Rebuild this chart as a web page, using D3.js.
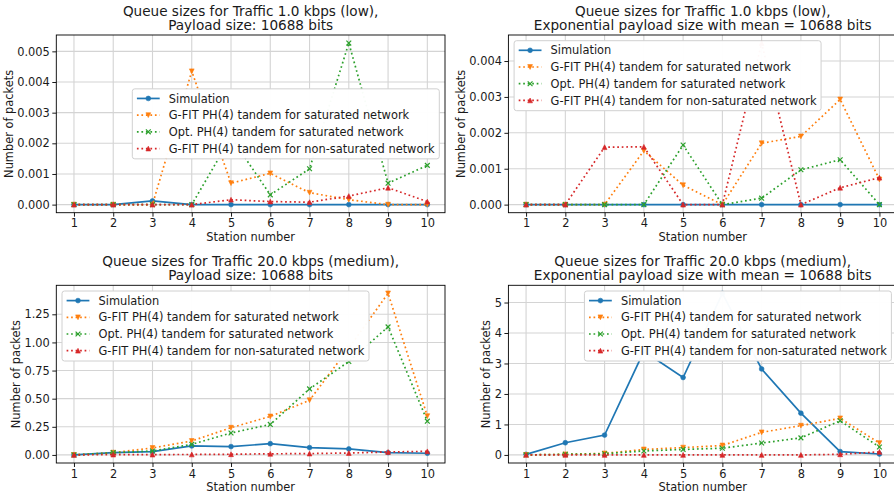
<!DOCTYPE html>
<html>
<head>
<meta charset="utf-8">
<script src="https://cdn.jsdelivr.net/npm/d3@7"></script>
<style>
  html, body { margin: 0; padding: 0; background: #fff; }
  svg { display: block; font-family: "DejaVu Sans", sans-serif; }
</style>
</head>
<body>
<svg id="chart" width="894" height="496"></svg>
<script>
// Station indices shared by every panel
const stations = [1, 2, 3, 4, 5, 6, 7, 8, 9, 10];

// Series names
const seriesNames = [
  "Simulation",
  "G-FIT PH(4) tandem for saturated network",
  "Opt. PH(4) tandem for saturated network",
  "G-FIT PH(4) tandem for non-saturated network"
];

// Panel titles
const titles = [
  ["Queue sizes for Traffic 1.0 kbps (low),", "Payload size: 10688 bits"],
  ["Queue sizes for Traffic 1.0 kbps (low),", "Exponential payload size with mean = 10688 bits"],
  ["Queue sizes for Traffic 20.0 kbps (medium),", "Payload size: 10688 bits"],
  ["Queue sizes for Traffic 20.0 kbps (medium),", "Exponential payload size with mean = 10688 bits"]
];

// Low traffic, fixed payload
const lowFixedSim       = [0, 0, 0.00012, 0, 0, 0, 0, 0, 0, 0];
const lowFixedGfitSat   = [0, 0, 0, 0.00435, 0.0007, 0.00102, 0.00039, 0.00016, 0, 0];
const lowFixedOptSat    = [0, 0, 0, 0, 0.0022, 0.00032, 0.00117, 0.00527, 0.0007, 0.00128];
const lowFixedGfitNon   = [0, 0, 0, 0, 0.00016, 0.0001, 0.00008, 0.00028, 0.00055, 0.0001];

// Low traffic, exponential payload
const lowExpSim         = [0, 0, 0, 0, 0, 0, 0, 0, 0, 0];
const lowExpGfitSat     = [0, 0, 0, 0.0015, 0.00054, 0, 0.00171, 0.0019, 0.00293, 0.0007];
const lowExpOptSat      = [0, 0, 0, 0, 0.00166, 0, 0.00018, 0.00097, 0.00125, 0];
const lowExpGfitNon     = [0, 0, 0.0016, 0.00161, 0, 0, 0.0045, 0, 0.00047, 0.00075];

// Medium traffic, fixed payload
const medFixedSim       = [0.0, 0.02, 0.03, 0.08, 0.074, 0.1, 0.065, 0.053, 0.02, 0.015];
const medFixedGfitSat   = [0, 0.02, 0.062, 0.124, 0.242, 0.342, 0.486, 0.95, 1.436, 0.345];
const medFixedOptSat    = [0, 0.02, 0.035, 0.094, 0.195, 0.271, 0.587, 0.83, 1.138, 0.3];
const medFixedGfitNon   = [0, 0.003, 0.003, 0.004, 0.006, 0.01, 0.012, 0.017, 0.026, 0.032];

// Medium traffic, exponential payload
const medExpSim         = [0.02, 0.4, 0.65, 3.4, 2.54, 5.3, 2.82, 1.37, 0.11, 0.03];
const medExpGfitSat     = [0, 0.02, 0.05, 0.18, 0.24, 0.31, 0.74, 0.96, 1.2, 0.39];
const medExpOptSat      = [0, 0.02, 0.04, 0.13, 0.18, 0.22, 0.39, 0.56, 1.12, 0.26];
const medExpGfitNon     = [0, 0, 0, 0, 0, 0, 0, 0, 0.02, 0.1];

// Y tick values per panel
const yTicksLowFixed = [0, 0.001, 0.002, 0.003, 0.004, 0.005];
const yTicksLowExp   = [0, 0.001, 0.002, 0.003, 0.004];
const yTicksMedFixed = [0, 0.25, 0.5, 0.75, 1.0, 1.25];
const yTicksMedExp   = [0, 1, 2, 3, 4, 5];

const panels = [
  { title: titles[0], series: [lowFixedSim, lowFixedGfitSat, lowFixedOptSat, lowFixedGfitNon],
    yTicks: yTicksLowFixed, fmt: d3.format(".3f"), legend: "center right" },
  { title: titles[1], series: [lowExpSim, lowExpGfitSat, lowExpOptSat, lowExpGfitNon],
    yTicks: yTicksLowExp, fmt: d3.format(".3f"), legend: "upper left" },
  { title: titles[2], series: [medFixedSim, medFixedGfitSat, medFixedOptSat, medFixedGfitNon],
    yTicks: yTicksMedFixed, fmt: d3.format(".2f"), legend: "upper left" },
  { title: titles[3], series: [medExpSim, medExpGfitSat, medExpOptSat, medExpGfitNon],
    yTicks: yTicksMedExp, fmt: d3.format("d"), legend: "upper right" }
];

// Styling
const colors = ["#1f77b4", "#ff7f0e", "#2ca02c", "#d62728"];
const markers = ["circle", "tri-down", "x", "tri-up"];
const dotted = [null, "1.7,2.8", "1.7,2.8", "1.7,2.8"];
const fs = 11.4;      // tick / label / legend font size
const titleFs = 13.6;
const textColor = "#1a1a1a";

// Axes rectangles (2 x 2 grid)
const axW = 388.7, axH = 177.7;
const lefts = [56.3, 508.4];
const tops = [35, 285.3];

const svg = d3.select("#chart");

function drawMarker(g, type, x, y, color) {
  const s = 2.4;
  if (type === "circle") {
    g.append("circle").attr("cx", x).attr("cy", y).attr("r", s).attr("fill", color).attr("stroke", color).attr("stroke-width", 0.6);
  } else if (type === "tri-down") {
    g.append("path").attr("d", `M${x},${y + s}L${x - s},${y - s}L${x + s},${y - s}Z`).attr("fill", color).attr("stroke", color).attr("stroke-width", 0.6);
  } else if (type === "tri-up") {
    g.append("path").attr("d", `M${x},${y - s}L${x - s},${y + s}L${x + s},${y + s}Z`).attr("fill", color).attr("stroke", color).attr("stroke-width", 0.6);
  } else if (type === "x") {
    g.append("path").attr("d", `M${x - s},${y - s}L${x + s},${y + s}M${x - s},${y + s}L${x + s},${y - s}`)
      .attr("fill", "none").attr("stroke", color).attr("stroke-width", 1.2);
  }
}

panels.forEach((p, i) => {
  const left = lefts[i % 2];
  const top = tops[Math.floor(i / 2)];
  const g = svg.append("g");

  // autoscale with 5% margins
  const all = p.series.flat();
  const lo = d3.min(all), hi = d3.max(all), span = hi - lo;
  const y = d3.scaleLinear().domain([lo - 0.05 * span, hi + 0.05 * span]).range([top + axH, top]);
  const x = d3.scaleLinear().domain([0.55, 10.45]).range([left, left + axW]);

  // grid
  const grid = g.append("g").attr("stroke", "#d4d4d4").attr("stroke-width", 1.1);
  stations.forEach(s => grid.append("line").attr("x1", x(s)).attr("x2", x(s)).attr("y1", top).attr("y2", top + axH));
  p.yTicks.forEach(t => grid.append("line").attr("x1", left).attr("x2", left + axW).attr("y1", y(t)).attr("y2", y(t)));

  // series lines and markers
  p.series.forEach((vals, k) => {
    const line = d3.line().x((d, j) => x(stations[j])).y(d => y(d));
    const path = g.append("path").datum(vals).attr("d", line)
      .attr("fill", "none").attr("stroke", colors[k]).attr("stroke-width", 1.7);
    if (dotted[k]) path.attr("stroke-dasharray", dotted[k]);
    const mg = g.append("g");
    vals.forEach((v, j) => drawMarker(mg, markers[k], x(stations[j]), y(v), colors[k]));
  });

  // spines
  g.append("rect").attr("x", left).attr("y", top).attr("width", axW).attr("height", axH)
    .attr("fill", "none").attr("stroke", "#000").attr("stroke-width", 0.9);

  // axes
  const xAxis = g.append("g").attr("transform", `translate(0,${top + axH})`)
    .call(d3.axisBottom(x).tickValues(stations).tickFormat(d3.format("d")).tickSize(4).tickPadding(2.5));
  const yAxis = g.append("g").attr("transform", `translate(${left},0)`)
    .call(d3.axisLeft(y).tickValues(p.yTicks).tickFormat(p.fmt).tickSize(4).tickPadding(2.5));
  [xAxis, yAxis].forEach(a => {
    a.select(".domain").remove();
    a.selectAll("line").attr("stroke", "#000").attr("stroke-width", 0.9);
    a.selectAll("text").attr("font-size", fs).attr("font-family", "DejaVu Sans").attr("fill", textColor);
  });

  // axis labels
  g.append("text").attr("x", left + axW / 2).attr("y", top + axH + 28.3)
    .attr("text-anchor", "middle").attr("font-size", fs).attr("fill", textColor).text("Station number");
  const yw = yAxis.node().getBBox().width;
  const ylx = left - yw - 4.5;
  g.append("text").attr("transform", `translate(${ylx},${top + axH / 2}) rotate(-90)`)
    .attr("text-anchor", "middle").attr("font-size", fs).attr("fill", textColor).text("Number of packets");

  // two-line title
  const tg = g.append("text").attr("text-anchor", "middle").attr("font-size", titleFs).attr("fill", textColor);
  tg.append("tspan").attr("x", left + axW / 2).attr("y", top - 19.5).text(p.title[0]);
  tg.append("tspan").attr("x", left + axW / 2).attr("y", top - 5.5).text(p.title[1]);

  // legend
  const pad = 4.6, handleLen = 22.8, textPad = 9.1, rowH = 16.7, lgH = 70, axPad = 5.7;
  const lg = g.append("g");
  const box = lg.append("rect").attr("rx", 2.5).attr("ry", 2.5)
    .attr("fill", "#fff").attr("fill-opacity", 0.97).attr("stroke", "#d0d0d0").attr("stroke-width", 1);
  const labels = seriesNames.map((name, k) =>
    lg.append("text").attr("font-size", fs).attr("fill", textColor).attr("dy", "0.36em").text(name));
  const maxW = d3.max(labels, t => t.node().getComputedTextLength());
  const lgW = pad + handleLen + textPad + maxW + pad;
  let lx, ly;
  if (p.legend === "center right") { lx = left + axW - axPad - lgW; ly = top + axH / 2 - lgH / 2; }
  else if (p.legend === "upper left") { lx = left + axPad; ly = top + axPad; }
  else { lx = left + axW - axPad - lgW; ly = top + axPad; }
  box.attr("x", lx).attr("y", ly).attr("width", lgW).attr("height", lgH);
  seriesNames.forEach((name, k) => {
    const cy = ly + 9.6 + k * rowH;
    const hx0 = lx + pad, hx1 = lx + pad + handleLen;
    const hl = lg.append("line").attr("x1", hx0).attr("x2", hx1).attr("y1", cy).attr("y2", cy)
      .attr("stroke", colors[k]).attr("stroke-width", 1.7);
    if (dotted[k]) hl.attr("stroke-dasharray", dotted[k]);
    drawMarker(lg, markers[k], (hx0 + hx1) / 2, cy, colors[k]);
    labels[k].attr("x", hx1 + textPad).attr("y", cy).raise();
  });
});
</script>
</body>
</html>
